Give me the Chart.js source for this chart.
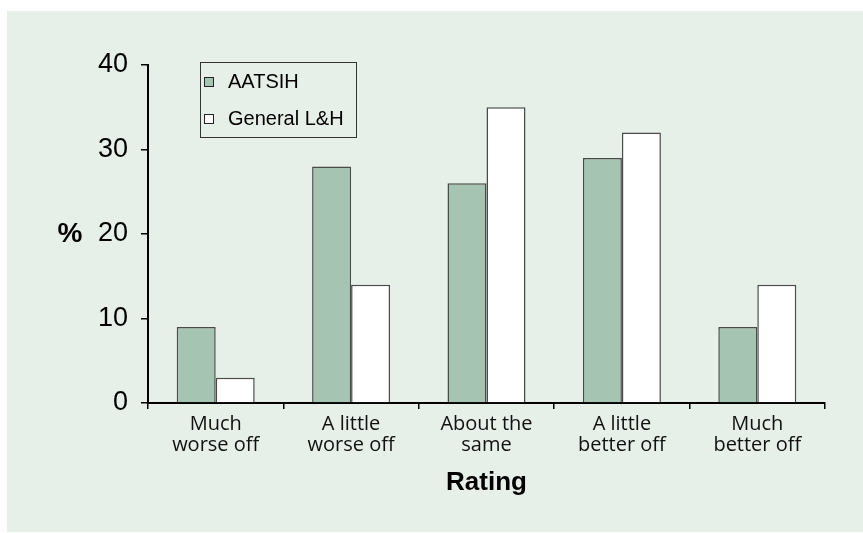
<!DOCTYPE html>
<html>
<head>
<meta charset="utf-8">
<script src="https://cdn.jsdelivr.net/npm/chart.js@4/dist/chart.umd.min.js"></script>
<style>
  html, body { margin: 0; padding: 0; background: #ffffff; }
  #wrap { width: 863px; height: 533px; }
</style>
</head>
<body>
<div id="wrap"><canvas id="ratingChart" width="863" height="533"></canvas></div>
<script>
// data
const ratings = [['Much', 'worse off'], ['A little', 'worse off'], ['About the', 'same'], ['A little', 'better off'], ['Much', 'better off']];
const aatsih = [9, 28, 26, 29, 9];
const generalLH = [3, 14, 35, 32, 14];
const yTicks = [0, 10, 20, 30, 40];

const panelColor = '#e6f0e9';
const greenFill = '#a5c4b1';
const barEdge = '#4a4a4a';

// light green panel behind everything, plus the "%" label and the boxed legend
const panelPlugin = {
    id: 'panel',
    beforeDraw(chart) {
        const c = chart.ctx;
        c.save();
        c.fillStyle = panelColor;
        c.fillRect(7, 11, chart.width - 7, chart.height - 12);
        c.restore();
    },
    afterDraw(chart) {
        const c = chart.ctx;
        const area = chart.chartArea;
        c.save();
        // y title, kept horizontal
        c.fillStyle = '#000';
        c.font = 'bold 28px "Liberation Sans", Arial, sans-serif';
        c.textAlign = 'center';
        c.textBaseline = 'middle';
        c.fillText('%', 70, chart.scales.y.getPixelForValue(20));

        // legend box
        const lx = area.left + 52, ly = area.top - 3;
        c.strokeStyle = '#333';
        c.lineWidth = 1;
        c.strokeRect(lx + 0.5, ly + 0.5, 156, 75);
        c.font = '20px "Liberation Sans", Arial, sans-serif';
        c.textAlign = 'left';
        chart.data.datasets.forEach(function (ds, i) {
            const cy = ly + 20 + i * 37;
            c.fillStyle = ds.backgroundColor;
            c.fillRect(lx + 4.5, cy - 4.5, 9, 9);
            c.strokeStyle = '#222';
            c.strokeRect(lx + 4.5, cy - 4.5, 9, 9);
            c.fillStyle = '#000';
            c.fillText(ds.label, lx + 28, cy);
        });
        c.restore();
    }
};

const ctx = document.getElementById('ratingChart').getContext('2d');
const ratingChart = new Chart(ctx, {
    type: 'bar',
    data: {
        labels: ratings,
        datasets: [{
            label: 'AATSIH',
            data: aatsih,
            backgroundColor: greenFill,
            borderColor: barEdge,
            borderWidth: 1.5
        }, {
            label: 'General L&H',
            data: generalLH,
            backgroundColor: '#ffffff',
            borderColor: barEdge,
            borderWidth: 1.5
        }]
    },
    options: {
        responsive: false,
        animation: false,
        devicePixelRatio: 1,
        layout: { padding: { left: 0, top: 65, right: 38, bottom: 0 } },
        datasets: { bar: { categoryPercentage: 0.576, barPercentage: 1 } },
        plugins: {
            legend: { display: false },
            tooltip: { enabled: false }
        },
        scales: {
            x: {
                grid: { drawOnChartArea: false, drawTicks: true, tickLength: 6, color: '#000', lineWidth: 1.5 },
                border: { display: true, color: '#000', width: 2 },
                ticks: {
                    color: '#111',
                    font: { family: '"Open Sans", sans-serif', size: 20, lineHeight: 1.08 },
                    padding: 4,
                    maxRotation: 0
                },
                title: {
                    display: true,
                    text: 'Rating',
                    color: '#000',
                    font: { family: '"Liberation Sans", Arial, sans-serif', size: 26, weight: 'bold', lineHeight: 1.2 },
                    padding: { top: 0, bottom: 35 }
                },
                afterFit: function (scale) { scale.height = 130; }
            },
            y: {
                min: 0,
                max: 40,
                afterBuildTicks: function (scale) { scale.ticks = yTicks.map(v => ({ value: v })); },
                grid: { drawOnChartArea: false, drawTicks: true, tickLength: 7, color: '#000', lineWidth: 1.5 },
                border: { display: true, color: '#000', width: 2 },
                ticks: {
                    color: '#000',
                    font: { family: '"Liberation Sans", Arial, sans-serif', size: 27 },
                    padding: 13
                },
                afterFit: function (scale) { scale.width = 148; }
            }
        }
    },
    plugins: [panelPlugin]
});
</script>
</body>
</html>
